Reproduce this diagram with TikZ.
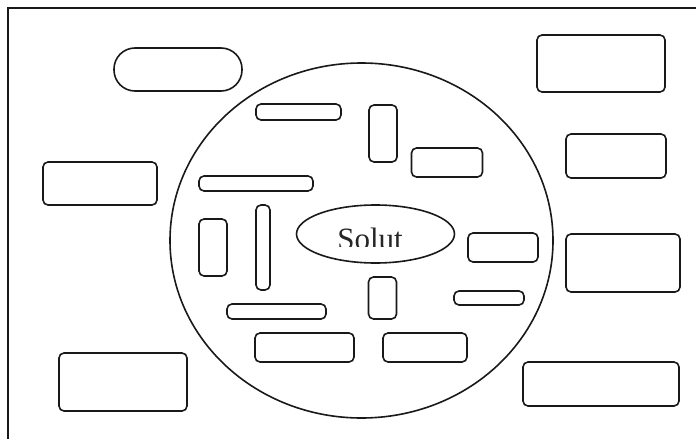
\documentclass[tikz,border=0pt]{standalone}
\usepackage{fontspec}
\setmainfont{Liberation Serif}
\usetikzlibrary{shapes.geometric}
\tikzset{
  frameline/.style={line width=1.6pt,black!90},
  blank/.style={draw=black!90,line width=1.6pt,rounded corners=5pt,
    inner sep=0pt,fill=white},
  pill/.style={blank,rounded corners=21pt},
  cellring/.style={draw=black!90,line width=1.6pt,ellipse,inner sep=0pt},
  core/.style={draw=black!90,line width=1.6pt,ellipse,inner sep=0pt},
}
\newcommand{\slot}[4]{\node[blank,minimum width=#3pt,minimum height=#4pt] (#1) at (#2) {};}
\begin{document}
\begin{tikzpicture}[x=1pt,y=-1pt]
  \useasboundingbox (0,0) rectangle (696,439);
  % page frame (cut off at right and bottom)
  \coordinate (fbl) at (8,439);
  \coordinate (ftl) at (8,8);
  \coordinate (ftr) at (696,8);
  \draw[frameline] (fbl) -- (ftl) -- (ftr);
  % outer boxes
  \node[pill,minimum width=128pt,minimum height=43pt] (topleft) at (178,69.5) {};
  \slot{midleft}{100,183.5}{114}{43}
  \slot{lowleft}{123,382}{128}{58}
  \slot{topright}{601,63.5}{128}{57}
  \slot{upright}{616,156}{100}{44}
  \slot{midright}{623,263}{114}{58}
  \slot{lowright}{601,384}{156}{44}
  % the cell
  \node[cellring,minimum width=383pt,minimum height=355pt] (cell) at (361.5,240.5) {};
  \slot{in1}{298.5,112}{85}{16}
  \slot{in2}{383,133.5}{28}{57}
  \slot{in3}{447,162.5}{71}{29}
  \slot{in4}{256,183.5}{114}{15}
  \slot{in5}{213,247.5}{28}{57}
  \slot{in6}{263,247.5}{14}{85}
  \slot{in7}{503,247.5}{70}{29}
  \slot{in8}{382.5,298}{28}{42}
  \slot{in9}{489,298}{70}{14}
  \slot{in10}{276.5,311.5}{99}{15}
  \slot{in11}{304.5,347.5}{99}{29}
  \slot{in12}{425,347.5}{84}{29}
  \node[core,minimum width=158pt,minimum height=58pt] (solut) at (375.5,234) {};
  \begin{scope}
    \clip (330,215) rectangle (412,246.5);
    \node[anchor=base,font=\fontsize{31}{31}\selectfont,inner sep=0pt,black!85] (soluttext) at (370,249) {Solut};
  \end{scope}
\end{tikzpicture}
\end{document}
